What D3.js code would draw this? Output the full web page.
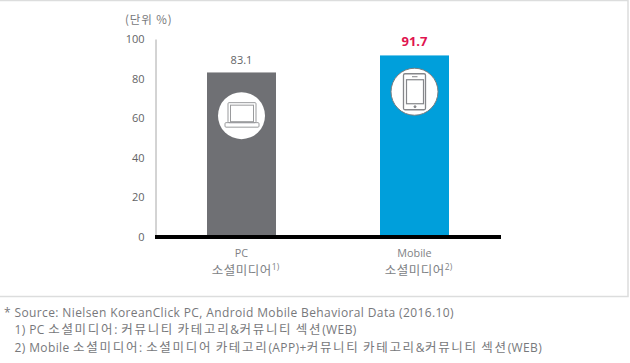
<!DOCTYPE html>
<html><head><meta charset="utf-8">
<script src="https://cdn.jsdelivr.net/npm/d3@7/dist/d3.min.js"></script>
<style>html,body{margin:0;padding:0;background:#fff}svg{display:block}</style>
</head><body><svg id="c" width="630" height="363"></svg>
<script>
const categories = ["PC", "Mobile"];
const subLabels = ["소셜미디어", "소셜미디어"];
const notes = ["1)", "2)"];
const values = [83.1, 91.7];
const barColors = ["#6f7074", "#009fdb"];
const valueColors = ["#636466", "#e0134f"];
const yTicks = [0, 20, 40, 60, 80, 100];
const unitLabel = "(단위 %)";
const footnotes = [
  "* Source: Nielsen KoreanClick PC, Android Mobile Behavioral Data (2016.10)",
  "   1) PC 소셜미디어: 커뮤니티 카테고리&커뮤니티 섹션(WEB)",
  "   2) Mobile 소셜미디어: 소셜미디어 카테고리(APP)+커뮤니티 카테고리&커뮤니티 섹션(WEB)"
];
const font = "'Open Sans','Noto Sans CJK KR',sans-serif";
const kr = "'Noto Sans CJK KR','Open Sans',sans-serif";
const svg = d3.select("#c");
const y = d3.scaleLinear().domain([0, 100]).range([237, 39]);
const x = d3.scalePoint().domain(categories).range([241.5, 414.5]);
const barW = 69;

svg.append("rect").attr("x", -2).attr("y", 0.5).attr("width", 630).attr("height", 296)
  .attr("fill", "#fff").attr("stroke", "#dcdddd").attr("stroke-width", 1.5);

svg.append("g").selectAll("rect").data(categories).join("rect")
  .attr("x", d => x(d) - barW / 2).attr("width", barW)
  .attr("y", (d, i) => y(values[i])).attr("height", (d, i) => y(0) - y(values[i]))
  .attr("fill", (d, i) => barColors[i]);

const axis = svg.append("g").attr("transform", "translate(155.5,0)")
  .call(d3.axisLeft(y).tickValues(yTicks).tickSize(0).tickPadding(11));
axis.select(".domain").attr("stroke", "#a8a8a8").attr("stroke-width", 1);
axis.selectAll("text").attr("fill", "#636466").style("font-family", font).style("font-size", "11px");

svg.append("line").attr("x1", 155).attr("x2", 501).attr("y1", y(0)).attr("y2", y(0))
  .attr("stroke", "#000").attr("stroke-width", 3.8);

svg.append("text").attr("x", 125).attr("y", 24).text(unitLabel)
  .attr("fill", "#77787b").attr("letter-spacing", 0.9).style("white-space", "pre")
  .style("font-family", kr).style("font-size", "11.5px");

svg.append("g").selectAll("text").data(categories).join("text")
  .attr("x", d => x(d)).attr("y", (d, i) => y(values[i]) - (i ? 9 : 8))
  .attr("text-anchor", "middle").text((d, i) => values[i].toFixed(1))
  .attr("fill", (d, i) => valueColors[i])
  .attr("font-weight", (d, i) => i ? 700 : 400)
  .style("font-family", font).style("font-size", (d, i) => i ? "13px" : "11px");

svg.append("g").selectAll("text").data(categories).join("text")
  .attr("x", d => x(d)).attr("y", 257).attr("text-anchor", "middle").text(d => d)
  .attr("fill", "#808285").style("font-family", font).style("font-size", "10.8px");

const subs = svg.append("g").selectAll("text").data(categories).join("text")
  .attr("x", d => x(d) + 4).attr("y", 275).attr("text-anchor", "middle")
  .attr("fill", "#808285").style("font-family", kr).style("font-size", "12.5px");
subs.append("tspan").attr("letter-spacing", 0.5).text((d, i) => subLabels[i]);
subs.append("tspan").attr("dy", -5).style("font-size", "8.5px").style("font-family", font).text((d, i) => notes[i]);

// Icons, anchored to each bar's position
const iconY = [y(values[0]) + 43.2, y(values[1]) + 36.3];
const icons = svg.append("g").selectAll("g").data(categories).join("g")
  .attr("transform", (d, i) => `translate(${x(d)},${iconY[i]})`);
icons.append("circle").attr("r", 23.5).attr("fill", "#fff")
  .attr("stroke", (d, i) => i ? "#7b7c7e" : "none").attr("stroke-width", 1);

const laptop = d3.select(icons.nodes()[0]).append("g").attr("fill", "none").attr("stroke", "#9a9b9d");
laptop.append("rect").attr("x", -13.5).attr("y", -13).attr("width", 28).attr("height", 20).attr("rx", 1);
laptop.append("rect").attr("x", -11).attr("y", -10.5).attr("width", 23).attr("height", 16.5);
laptop.append("rect").attr("x", -16.5).attr("y", 7).attr("width", 34).attr("height", 4.5).attr("rx", 1);

const phone = d3.select(icons.nodes()[1]).append("g").attr("fill", "none").attr("stroke", "#85868a");
phone.append("rect").attr("x", -11).attr("y", -18).attr("width", 22).attr("height", 36).attr("rx", 1.5).attr("stroke-width", 1.3);
phone.append("rect").attr("x", -8).attr("y", -12).attr("width", 17).attr("height", 24).attr("stroke-width", 1.2);
phone.append("line").attr("x1", -2.5).attr("x2", 3).attr("y1", -15).attr("y2", -15);
phone.append("circle").attr("cy", 15).attr("cx", 0.5).attr("r", 1).attr("fill", "#85868a");

const lines = svg.append("g").selectAll("text").data(footnotes).join("text")
  .attr("x", 4).attr("y", (d, i) => 317 + i * 17.3)
  .style("white-space", "pre").attr("fill", "#77787b")
  .style("font-size", "12px");
lines.each(function (d) {
  const t = d3.select(this);
  d.split(/([\uAC00-\uD7A3]+)/).filter(s => s).forEach(s => {
    const isKr = /[\uAC00-\uD7A3]/.test(s);
    t.append("tspan").text(s)
      .style("font-family", isKr ? kr : font)
      .style("font-size", isKr ? "12.5px" : "12px")
      .attr("letter-spacing", isKr ? 1.7 : 0.38);
  });
});
</script></body></html>
